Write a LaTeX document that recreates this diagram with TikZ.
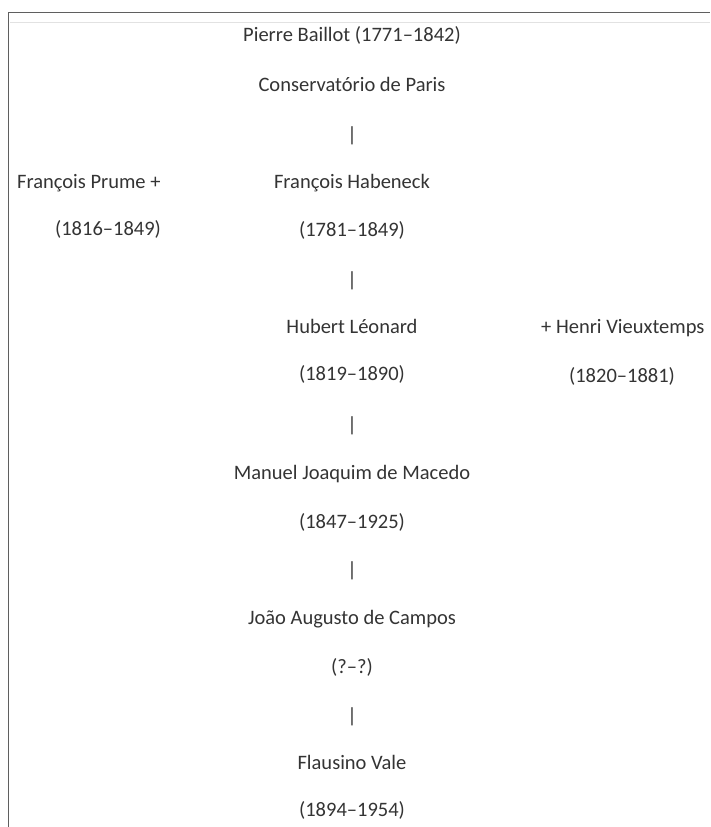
\documentclass[tikz,border=0pt]{standalone}
\usepackage{fontspec}
\setmainfont{Carlito}
\definecolor{lineageink}{RGB}{52,52,52}
\definecolor{lineageframe}{RGB}{95,95,95}
\definecolor{lineagerule}{RGB}{226,226,226}
\tikzset{
  lineagename/.style={text=lineageink, font=\fontsize{20.5}{24}\selectfont,
    inner sep=0pt, text height=1em, text depth=0em},
  lineagebar/.style={lineagename},
  lineageframeline/.style={draw=lineageframe, line width=1pt},
  lineagefaint/.style={draw=lineagerule, line width=1pt},
}

\begin{document}
\begin{tikzpicture}[x=1pt, y=-1pt]
  \useasboundingbox (0,0) rectangle (710,827);
  \fill[white] (0,0) rectangle (710,827);
  \draw[lineagefaint] (10,22) -- (710,22);
  \draw[lineageframeline] (8,827) -- (8,12) -- (710,12);
  % main line
  \node[lineagename] (baillot) at (352,36) {Pierre Baillot (1771–1842)};
  \node[lineagename] (conserv) at (352,86) {Conservatório de Paris};
  \node[lineagebar] (bar1) at (352,136) {|};
  \node[lineagename] (habeneck) at (352,183) {François Habeneck};
  \node[lineagename] (habeneckdates) at (352,231) {(1781–1849)};
  \node[lineagebar] (bar2) at (352,281) {|};
  \node[lineagename] (leonard) at (352,328) {Hubert Léonard};
  \node[lineagename] (leonarddates) at (352,375) {(1819–1890)};
  \node[lineagebar] (bar3) at (352,426) {|};
  \node[lineagename] (macedo) at (352,474) {Manuel Joaquim de Macedo};
  \node[lineagename] (macedodates) at (352,523) {(1847–1925)};
  \node[lineagebar] (bar4) at (352,571) {|};
  \node[lineagename] (campos) at (352,619) {João Augusto de Campos};
  \node[lineagename] (camposdates) at (352,668) {(?–?)};
  \node[lineagebar] (bar5) at (352,717) {|};
  \node[lineagename] (vale) at (352,764) {Flausino Vale};
  \node[lineagename] (valedates) at (352,811) {(1894–1954)};
  % side teachers
  \node[lineagename, anchor=west] (prume) at (17,183) {François Prume +};
  \node[lineagename] (prumedates) at (108,230) {(1816–1849)};
  \node[lineagename, anchor=west] (vieuxtemps) at (541,328) {+ Henri Vieuxtemps};
  \node[lineagename] (vieuxtempsdates) at (622,377) {(1820–1881)};
\end{tikzpicture}
\end{document}
